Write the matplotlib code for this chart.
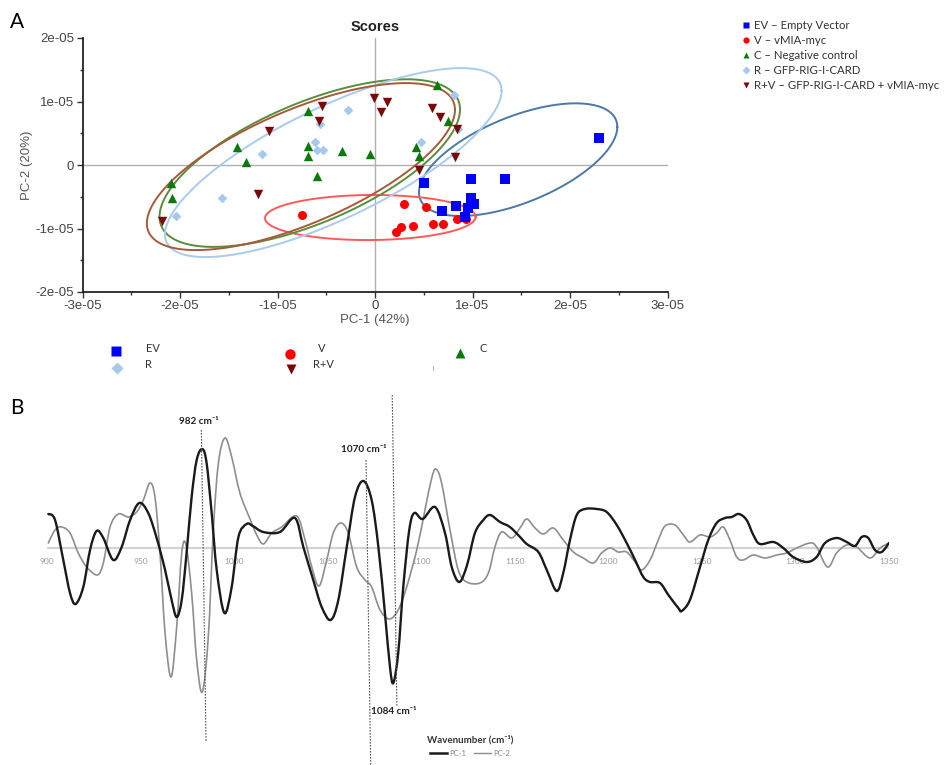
import numpy as np
import matplotlib
matplotlib.use("Agg")
import matplotlib.pyplot as plt
from matplotlib.lines import Line2D
from matplotlib.path import Path
from matplotlib.patches import PathPatch
from matplotlib.ticker import AutoMinorLocator, FuncFormatter

# ---- panel A : PCA scores (units of 1e-05) ----
ev_pc1 = [2.30, 0.50, 0.985, 1.333, 0.981, 1.015, 0.831, 0.687, 0.957, 0.923]
ev_pc2 = [0.430, -0.289, -0.220, -0.220, -0.525, -0.619, -0.646, -0.724, -0.682, -0.814]

v_pc1 = [0.301, 0.523, 0.393, 0.264, 0.215, 0.598, 0.701, 0.844, 0.933, -0.752]
v_pc2 = [-0.609, -0.661, -0.961, -0.982, -1.050, -0.929, -0.929, -0.850, -0.850, -0.787]

c_pc1 = [-0.690, -1.419, -1.323, -0.690, -0.690, -0.335, -0.051, -0.598, -2.092, -2.085,
         0.639, 0.752, 0.417, 0.455]
c_pc2 = [0.850, 0.288, 0.052, 0.299, 0.142, 0.226, 0.168, -0.173, -0.289, -0.525,
         1.260, 0.693, 0.288, 0.142]

r_pc1 = [-0.277, -0.564, -0.615, -0.598, -0.537, -1.162, -1.566, -2.044, 0.810, 0.848, 0.472]
r_pc2 = [0.866, 0.646, 0.357, 0.236, 0.236, 0.173, -0.525, -0.803, 1.102, 0.562, 0.367]

rv_pc1 = [-0.547, -0.571, -1.087, -1.197, -2.188, -0.007, 0.120, 0.058, 0.588, 0.667,
          0.838, 0.821, 0.455]
rv_pc2 = [0.929, 0.698, 0.535, -0.457, -0.877, 1.050, 0.987, 0.829, 0.903, 0.761,
          0.562, 0.131, -0.079]

# confidence ellipses: centre, half extents, correlation (units of 1e-05)
ell_groups = ["EV", "V", "C", "R", "R+V"]
ell_cx = [1.468, -0.048, -0.669, -0.428, -0.760]
ell_cy = [0.084, -0.827, 0.030, 0.038, -0.025]
ell_hx = [1.017, 1.080, 1.541, 1.726, 1.580]
ell_hy = [0.887, 0.355, 1.320, 1.488, 1.315]
ell_r = [0.58, 0.03, 0.64, 0.76, 0.68]

# ---- panel B : PC loadings (arbitrary units) ----
pc1_wn = [900.7, 904.3, 908.7, 912.3, 915.3, 919.4, 923, 926.5, 930.1, 935.4, 939.9, 944.4,
          949.3, 954.1, 958.6, 963.1, 966.6, 969.3, 972, 974.6, 977.3, 980, 983, 985.3, 988,
          990.7, 994.8, 998.7, 1002.3, 1006.7, 1010, 1015.6, 1024.5, 1032.5, 1037, 1042.3,
          1046.8, 1051.6, 1055.7, 1060.2, 1064.6, 1069.1, 1073.5, 1077.1, 1080.6, 1083.3,
          1085.1, 1087.7, 1090.4, 1093.6, 1096.3, 1100.8, 1107.4, 1112.7, 1116.3, 1120.4,
          1124.5, 1128.7, 1133.2, 1136.8, 1142.1, 1147.4, 1152.8, 1156.4, 1162.6, 1167.1,
          1172.4, 1175.9, 1179.5, 1183.1, 1187.5, 1193.8, 1199.1, 1204.5, 1209.8, 1214.3,
          1218.7, 1222.3, 1227.6, 1232.1, 1237.4, 1239.2, 1243.6, 1249, 1253.4, 1257.9,
          1262.4, 1265.9, 1269.8, 1273.9, 1277.5, 1281, 1288.2, 1293.5, 1298.8, 1306,
          1311.3, 1315.8, 1322, 1327.4, 1331.8, 1335.4, 1338.9, 1342.5, 1346.1, 1350]
pc1_val = [34, 28, -12, -45, -56, -39, -2, 17, 10, -12, 1, 28,
           45, 35, 10, -22, -52, -69, -52, -5, 51, 88, 99, 85, 35,
           -22, -65, -39, 11, 24, 22, 16, 16, 30, 1, -32,
           -59, -72, -52, 1, 51, 67, 48, 1, -65, -119,
           -135, -105, -39, 18, 35, 29, 41, 15, -19, -34,
           -17, 15, 28, 33, 26, 21, 11, 4, -4, -22,
           -43, -25, 8, 33, 39, 39, 36, 23, 5, -12,
           -29, -34, -35, -47, -60, -63, -52, -19, 8, 25,
           30, 31, 34, 28, 13, 4, 6, 0, -9, -14,
           -9, 5, 10, 6, 2, 11, 10, -2, -4, 5]

pc2_wn = [900.7, 904.3, 907.8, 912.3, 916.7, 921.2, 926.9, 930.1, 933.7, 938.1, 943.5, 947.9,
          951.5, 955, 957.7, 960.4, 963.1, 966.3, 969.3, 972, 974.3, 977.3, 980, 983, 986.2,
          988.9, 991.6, 995.1, 998.7, 1003.1, 1008.5, 1012.1, 1015.6, 1020.1, 1025.4, 1033.4,
          1037.9, 1041.5, 1045.4, 1049.5, 1053, 1057, 1061, 1065.5, 1070, 1073.5, 1078, 1083,
          1087.7, 1092.2, 1097.6, 1102, 1105.6, 1107.9, 1110.9, 1115.4, 1119.8, 1124.3,
          1131.4, 1135.9, 1139.4, 1143, 1148.4, 1152.8, 1156.4, 1160.8, 1165.3, 1170.6,
          1175.9, 1181.3, 1186.6, 1192, 1196.4, 1200.9, 1205.3, 1209.8, 1214.3, 1217.8,
          1222.3, 1226.7, 1230.3, 1235.6, 1240.1, 1243.6, 1249, 1254.3, 1257.9, 1261.4,
          1265, 1268.6, 1272.1, 1277.5, 1283.7, 1290, 1295.3, 1300.7, 1307.8, 1311.3,
          1317.2, 1322, 1327.4, 1332.7, 1339.8, 1345.2, 1350]
pc2_val = [5, 18, 21, 15, -5, -19, -27, -15, 21, 34, 31, 36,
           48, 65, 51, -5, -85, -129, -79, -5, 3, -45, -112, -144, -89,
           18, 85, 110, 91, 55, 29, 13, 4, 15, 21, 32,
           8, -19, -38, -12, 15, 25, 15, -19, -32, -39, -62, -71,
           -62, -39, -2, 38, 70, 79, 65, 18, -22, -34,
           -35, -25, 1, 16, 10, 20, 29, 20, 14, 20,
           8, -4, -10, -15, -5, 0, -4, -4, -14, -22,
           -12, 8, 22, 23, 13, 6, 13, 11, 15, 21,
           8, -9, -12, -7, -10, -7, -5, 0, 5, 1,
           -19, -5, 3, 1, -10, 0, 5]

wn_ticks = [900, 950, 1000, 1050, 1100, 1150, 1200, 1250, 1300, 1350]
peaks = [982, 1070, 1084]

W, H = 944, 765
fig = plt.figure(figsize=(W / 100, H / 100), dpi=100)

def fx(px):
    return px / W

def fy(py):
    return 1 - py / H

def smooth_path(x, y):
    # smoothed line through the points (like a spreadsheet "smoothed line")
    p = np.column_stack([x, y]).astype(float)
    ext = np.vstack([p[0], p, p[-1]])
    verts = [p[0]]
    codes = [Path.MOVETO]
    for i in range(len(p) - 1):
        p0, p1, p2, p3 = ext[i], ext[i + 1], ext[i + 2], ext[i + 3]
        verts += [p1 + (p2 - p0) / 6, p2 - (p3 - p1) / 6, p2]
        codes += [Path.CURVE4] * 3
    return Path(verts, codes)

# ================= panel A =================
axA = fig.add_axes([fx(82.5), fy(292), 585 / W, 254 / H])
axA.set_xlim(-3e-5, 3e-5)
axA.set_ylim(-2e-5, 2e-5)
axA.axhline(0, color="#b0b0b0", lw=1.0, zorder=1)
axA.axvline(0, color="#b0b0b0", lw=1.0, zorder=1)

ell_col = ["#4b78a6", "#ff5a5a", "#5b8c3c", "#a9cbec", "#a65a3a"]
t = np.linspace(0, 2 * np.pi, 300)
for i in range(len(ell_groups)):
    ex = ell_cx[i] + ell_hx[i] * np.cos(t)
    ey = ell_cy[i] + ell_hy[i] * (ell_r[i] * np.cos(t) + np.sqrt(1 - ell_r[i] ** 2) * np.sin(t))
    axA.plot(ex * 1e-5, ey * 1e-5, color=ell_col[i], lw=1.4, zorder=2)

sc = 1e-5
axA.scatter(np.array(r_pc1) * sc, np.array(r_pc2) * sc, marker="D", s=24, color="#a6c8ee", zorder=3, linewidths=0)
axA.scatter(np.array(c_pc1) * sc, np.array(c_pc2) * sc, marker="^", s=46, color="#0b7a0b", zorder=3, linewidths=0)
axA.scatter(np.array(rv_pc1) * sc, np.array(rv_pc2) * sc, marker="v", s=46, color="#7a0a0a", zorder=3, linewidths=0)
axA.scatter(np.array(v_pc1) * sc, np.array(v_pc2) * sc, marker="o", s=42, color="#ff0000", zorder=3, linewidths=0)
axA.scatter(np.array(ev_pc1) * sc, np.array(ev_pc2) * sc, marker="s", s=46, color="#0000ff", zorder=3, linewidths=0)

fmt = FuncFormatter(lambda v, p: "0" if abs(v) < 1e-12 else "%.0e" % v)
axA.xaxis.set_major_formatter(fmt)
axA.yaxis.set_major_formatter(fmt)
axA.set_xticks(np.arange(-3e-5, 3.01e-5, 1e-5))
axA.set_yticks(np.arange(-2e-5, 2.01e-5, 1e-5))
axA.xaxis.set_minor_locator(AutoMinorLocator(2))
axA.yaxis.set_minor_locator(AutoMinorLocator(2))
axA.tick_params(which="major", direction="out", length=4, width=1, colors="#333333",
                labelsize=9.5, labelcolor="#444444", pad=2)
axA.tick_params(which="minor", direction="out", length=2.5, width=1, colors="#333333")
for lab in axA.get_xticklabels() + axA.get_yticklabels():
    lab.set_family("Liberation Sans")
for s in ["top", "right"]:
    axA.spines[s].set_visible(False)
for s in ["left", "bottom"]:
    axA.spines[s].set_color("#222222")
    axA.spines[s].set_linewidth(1.3)
axA.set_xlabel("PC-1 (42%)", fontsize=9.5, color="#555555", labelpad=1, family="Liberation Sans")
axA.set_ylabel("PC-2 (20%)", fontsize=9.5, color="#555555", labelpad=2, family="Liberation Sans")
axA.set_title("Scores", fontsize=10.5, fontweight="bold", color="#222222", pad=5, family="Liberation Sans")

fig.text(fx(10), fy(22), "A", fontsize=15, va="center", ha="left", family="Lato")
fig.text(fx(10), fy(408), "B", fontsize=15, va="center", ha="left", family="Lato")

# legend at the top right
leg_labels = ["EV \u2013 Empty Vector", "V \u2013 vMIA-myc", "C \u2013 Negative control",
              "R \u2013 GFP-RIG-I-CARD", "R+V \u2013 GFP-RIG-I-CARD + vMIA-myc"]
leg_handles = [
    Line2D([], [], ls="none", marker="s", ms=4.5, color="#0000ff", mec="none"),
    Line2D([], [], ls="none", marker="o", ms=4.5, color="#ff0000", mec="none"),
    Line2D([], [], ls="none", marker="^", ms=4.5, color="#0b7a0b", mec="none"),
    Line2D([], [], ls="none", marker="D", ms=3.8, color="#a6c8ee", mec="none"),
    Line2D([], [], ls="none", marker="v", ms=4.5, color="#7a0a0a", mec="none"),
]
fig.legend(leg_handles, leg_labels, loc="upper left", bbox_to_anchor=(fx(737), fy(15)),
           frameon=False, handlelength=0.8, handletextpad=0.3, labelspacing=0.36,
           prop={"family": "Lato", "size": 8.2}, labelcolor="#333333", borderaxespad=0)

# legend under panel A
small = [("s", "#0000ff", 7.5, 116, 351, "EV", 146, 349),
         ("D", "#a6c8ee", 6.0, 117, 368, "R", 145, 364),
         ("o", "#ff0000", 7.5, 290, 354, "V", 318, 349),
         ("v", "#7a0a0a", 7.5, 291, 369, "R+V", 313, 364),
         ("^", "#0b7a0b", 7.5, 460, 353, "C", 480, 349)]
for mk, col, ms, mx, my, lab, tx, ty in small:
    fig.add_artist(Line2D([fx(mx)], [fy(my)], transform=fig.transFigure, ls="none",
                          marker=mk, ms=ms, color=col, mec="none"))
    fig.text(fx(tx), fy(ty), lab, fontsize=8, family="Lato", color="#333333", va="center", ha="left")
fig.add_artist(Line2D([fx(433), fx(433)], [fy(366), fy(370)], transform=fig.transFigure,
                      color="#bbbbbb", lw=0.8))

# ================= panel B =================
axB = fig.add_axes([fx(47), 0, 842 / W, 370 / H])
axB.set_xlim(900, 1350)
axB.set_ylim(-217, 153)
axB.axis("off")
axB.axhline(0, color="#d4d4d4", lw=1.6, zorder=1)
for w in wn_ticks:
    axB.text(w, -13, str(w), ha="center", va="center", fontsize=6, color="#9a9a9a", family="Lato")

axB.add_patch(PathPatch(smooth_path(pc2_wn, pc2_val), fill=False, edgecolor="#8e8e8e",
                        lw=1.2, zorder=2, capstyle="round", joinstyle="round"))
axB.add_patch(PathPatch(smooth_path(pc1_wn, pc1_val), fill=False, edgecolor="#1a1a1a",
                        lw=1.7, zorder=3, capstyle="round", joinstyle="round"))

line_top = [118, 88, 153]
line_bot = [-194, -217, -159]
for w, v0, v1 in zip(peaks, line_top, line_bot):
    axB.plot([w + 0.5, w + 3.0], [v0, v1], color="#555555", lw=0.8, ls=(0, (1.5, 1.2)), zorder=4)

bold = {"family": ["Lato", "DejaVu Sans"], "weight": "bold", "size": 7.2, "color": "#222222"}
axB.text(981.2, 126, "982 cm\u207b\u00b9", ha="center", va="center", **bold)
axB.text(1069.4, 98, "1070 cm\u207b\u00b9", ha="center", va="center", **bold)
axB.text(1085.5, -164, "1084 cm\u207b\u00b9", ha="center", va="center", **bold)
axB.text(1126, -192, "Wavenumber (cm\u207b\u00b9)", ha="center", va="center",
         **{**bold, "size": 7, "color": "#333333"})

h1 = Line2D([], [], color="#1a1a1a", lw=1.8)
h2 = Line2D([], [], color="#8e8e8e", lw=1.0)
fig.legend([h1, h2], ["PC-1", "PC-2"], loc="center", bbox_to_anchor=(fx(470), fy(753)),
           ncol=2, frameon=False, handlelength=2.2, handletextpad=0.3, columnspacing=1.0,
           prop={"family": "Lato", "size": 5.5}, labelcolor="#888888", borderaxespad=0)

fig.savefig("out.png", dpi=100)
